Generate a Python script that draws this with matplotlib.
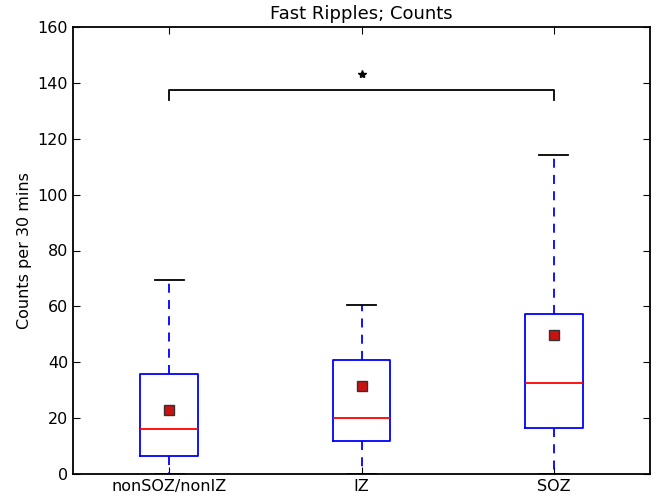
import matplotlib
matplotlib.use("Agg")
import matplotlib.pyplot as plt

categories = ["nonSOZ/nonIZ", "IZ", "SOZ"]
q1 = [6.3, 11.9, 16.3]
medians = [16.2, 20.2, 32.6]
q3 = [35.8, 40.8, 57.4]
whislo = [0.0, 0.0, 0.0]
whishi = [69.4, 60.4, 114.3]
means = [23.0, 31.5, 49.9]
bracket_y = 137.4
bracket_drop = 3.4
star_y = 143.0
yticks = [0, 20, 40, 60, 80, 100, 120, 140, 160]

fig = plt.figure(figsize=(6.56, 4.96), dpi=100)
ax = fig.add_axes([73/656, 1 - 474/496, (650-73)/656, (474-27)/496])

stats = []
for i, c in enumerate(categories):
    stats.append(dict(label=c, q1=q1[i], med=medians[i], q3=q3[i],
                      whislo=whislo[i], whishi=whishi[i], mean=means[i], fliers=[]))

positions = [1, 2, 3]
ax.bxp(stats, positions=positions, widths=0.3, showmeans=True,
       boxprops=dict(color="blue", linewidth=1.3),
       whiskerprops=dict(color="blue", linestyle=(0, (5, 4)), linewidth=1.3),
       capprops=dict(color="black", linewidth=1.3),
       medianprops=dict(color="red", linewidth=1.3),
       meanprops=dict(marker="s", markerfacecolor="#cc1111", markeredgecolor="#333333",
                      markersize=7, markeredgewidth=1.0),
       capwidths=0.15)

ax.plot([positions[0], positions[0], positions[2], positions[2]],
        [bracket_y - bracket_drop, bracket_y, bracket_y, bracket_y - bracket_drop],
        color="black", linewidth=1.3)
ax.plot([positions[1]], [star_y], marker="*", color="black", markersize=6, linestyle="none")

ax.set_xlim(0.5, 3.5)
ax.set_ylim(0, 160)
ax.set_yticks(yticks)
ax.set_xticks(positions)
ax.set_xticklabels(categories)
ax.tick_params(direction="in", top=True, right=True, length=5, labelsize=11.5)
for s in ax.spines.values():
    s.set_linewidth(1.3)
ax.set_title("Fast Ripples; Counts", fontsize=13)
ax.set_ylabel("Counts per 30 mins", fontsize=11.5)

fig.savefig("out.png", dpi=100)
